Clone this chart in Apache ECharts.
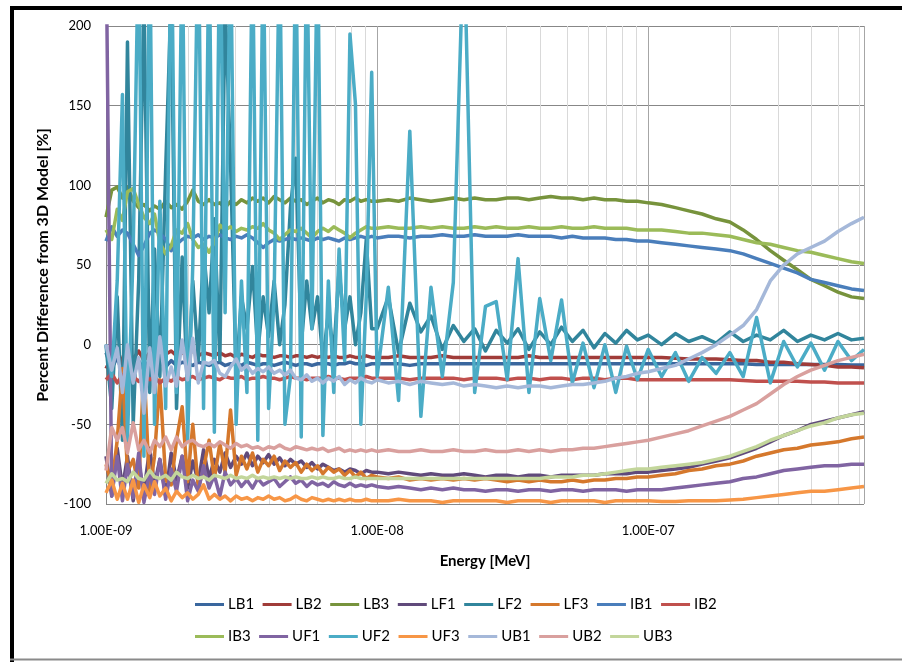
<!DOCTYPE html>
<html>
<head>
<meta charset="utf-8">
<script src="https://cdn.jsdelivr.net/npm/echarts@6/dist/echarts.min.js"></script>
<style>
html,body{margin:0;padding:0;background:#fff;}
#chart{width:902px;height:662px;}
</style>
</head>
<body>
<div id="chart"></div>
<script>
// ---- data ----
const energy = [1.00e-9,1.05e-9,1.10e-9,1.15e-9,1.20e-9,1.26e-9,1.32e-9,1.38e-9,1.45e-9,1.51e-9,
1.58e-9,1.66e-9,1.74e-9,1.82e-9,1.91e-9,2.00e-9,2.09e-9,2.19e-9,2.29e-9,2.40e-9,
2.51e-9,2.63e-9,2.75e-9,2.88e-9,3.02e-9,3.16e-9,3.31e-9,3.47e-9,3.63e-9,3.80e-9,
3.98e-9,4.17e-9,4.37e-9,4.57e-9,4.79e-9,5.01e-9,5.25e-9,5.50e-9,5.75e-9,6.03e-9,
6.31e-9,6.61e-9,6.92e-9,7.24e-9,7.59e-9,7.94e-9,8.32e-9,8.71e-9,9.12e-9,9.55e-9,
1.00e-8,1.10e-8,1.20e-8,1.32e-8,1.45e-8,1.58e-8,1.74e-8,1.91e-8,2.09e-8,2.29e-8,
2.51e-8,2.75e-8,3.02e-8,3.31e-8,3.63e-8,3.98e-8,4.37e-8,4.79e-8,5.25e-8,5.75e-8,
6.31e-8,6.92e-8,7.59e-8,8.32e-8,9.12e-8,
1.00e-7,1.12e-7,1.26e-7,1.41e-7,1.58e-7,1.78e-7,2.00e-7,2.24e-7,2.51e-7,2.82e-7,
3.16e-7,3.55e-7,3.98e-7,4.47e-7,5.01e-7,5.62e-7,6.25e-7];

const LB1 = [-5,-15,-8,-18,-6,-14,-10,-16,-9,-13,
-11,-14,-10,-13,-11,-12,-13,-11,-12,-13,
-12,-11,-13,-12,-12,-13,-11,-12,-13,-12,
-12,-13,-12,-11,-12,-13,-12,-12,-13,-12,
-12,-12,-13,-12,-12,-11,-12,-12,-13,-12,
-12,-12,-12,-13,-12,-12,-12,-12,-12,-12,
-12,-12,-12,-12,-12,-12,-12,-12,-12,-12,
-12,-12,-12,-12,-12,
-12,-12,-12,-12,-12,-12,-12,-12,-12.5,-12.5,-12.5,-12.5,-12.5,-12.5,-12.5,-12.7,-12.7];

const LB2 = [-15,-8,-3,-12,-2,-9,-4,-10,-5,-3,
-8,-6,-4,-7,-5,-6,-4,-7,-5,-6,
-7,-5,-7,-6,-8,-6,-7,-8,-6,-7,
-7,-8,-7,-7,-8,-7,-7,-8,-7,-8,
-7,-8,-7,-8,-8,-7,-8,-8,-7,-8,
-8,-8,-7,-8,-8,-8,-7,-8,-8,-8,
-8,-8,-8,-8,-7,-8,-8,-8,-8,-8,
-8,-8,-8,-8,-8,
-8,-8,-8.5,-9,-9,-9,-9.5,-10,-10,-11,-11,-12,-12.5,-13,-14,-14,-14.5];

const LB3 = [80,97,99,92,99,90,86,88,84,87,
85,90,86,88,85,90,97,90,88,91,
88,89,86,90,88,91,89,92,90,92,
89,93,91,89,92,90,91,88,90,92,
89,91,90,88,91,90,92,90,91,90,
90,91,90,92,91,90,91,92,91,92,
91,91,92,92,91,92,93,92,92,91,
92,91,91,90,90,
89,88,86,84,82,79,77,72,66,59,53,47,41,37,33,30,29];

const LF1 = [-70,-95,-65,-90,-70,-98,-75,-92,-65,-88,
-72,-95,-68,-85,-70,-90,-73,-86,-66,-84,
-72,-80,-68,-77,-70,-75,-68,-76,-70,-74,
-69,-75,-71,-76,-72,-75,-73,-77,-74,-78,
-75,-77,-79,-78,-80,-78,-79,-81,-79,-80,
-80,-81,-80,-81,-82,-81,-82,-82,-81,-82,
-83,-82,-82,-83,-82,-82,-83,-82,-82,-82,
-82,-81,-81,-81,-80,
-80,-79,-78,-77,-75,-73,-71,-68,-65,-61,-57,-54,-50,-48,-46,-44,-42];

const LF2 = [0,-40,30,-60,190,-50,40,220,-30,60,
-20,110,220,-40,55,-30,40,-10,60,20,
79,-10,215,114,-20,30,10,49,-5,30,
5,40,0,25,86,117,0,40,10,30,
-10,20,-5,47,10,30,0,20,66,10,
10,30,-5,26,8,18,-3,12,2,10,
-4,9,1,10,-3,8,0,11,2,9,
-2,7,1,9,3,
6,0,7,2,5,1,8,2,6,3,9,2,6,3,7,3,4];

const LF3 = [-75,-88,-60,-15,-80,-72,-90,-12,-92,-70,
-22,-85,-88,-60,-39,-86,-50,-90,-78,-60,
-84,-62,-80,-41,-82,-70,-78,-68,-80,-72,
-76,-70,-79,-73,-77,-74,-80,-75,-79,-76,
-81,-77,-80,-78,-82,-79,-83,-80,-84,-82,
-83,-84,-83,-85,-84,-85,-84,-85,-84,-85,
-84,-85,-86,-85,-86,-85,-86,-86,-85,-86,
-85,-85,-84,-84,-83,
-83,-82,-81,-79,-78,-76,-75,-73,-70,-68,-66,-65,-63,-62,-61,-59,-58];

const IB1 = [65,74,68,72,70,63,56,62,70,72,
70,66,59,63,66,68,67,69,66,68,
67,69,67,66,68,67,69,67,64,61,
64,66,65,66,67,66,67,66,65,67,
66,67,66,65,67,66,67,68,67,68,
67,68,68,67,68,68,69,68,68,69,
68,68,68,69,68,68,68,67,68,67,
67,67,66,66,65,
65,64,63,62,61,60,59,57,54,51,48,45,41,39,37,35,34];

const IB2 = [-22,-18,-24,-19,-25,-20,-23,-19,-22,-20,
-24,-21,-23,-20,-22,-21,-20,-22,-21,-20,
-21,-22,-20,-21,-21,-20,-22,-21,-21,-20,
-21,-21,-22,-21,-20,-21,-21,-22,-21,-21,
-21,-20,-21,-21,-22,-21,-21,-21,-20,-21,
-21,-21,-21,-22,-21,-21,-21,-21,-22,-21,
-21,-21,-22,-21,-21,-22,-21,-21,-22,-21,
-21,-22,-21,-21,-22,
-22,-22,-22,-22,-22,-22,-22,-22.5,-23,-23,-23,-23,-23.5,-23.5,-24,-24,-24];

const IB3 = [72,66,85,78,96,98,88,80,76,82,
64,57,62,72,70,76,66,61,63,58,
64,75,72,74,71,73,72,74,73,76,
72,70,66,69,72,71,73,70,67,71,
73,71,74,72,70,67,70,72,74,73,
73,74,73,73,74,73,74,73,73,74,
73,74,73,73,74,73,73,74,73,73,
74,73,73,73,72,
72,72,71,70,70,69,68,66,64,63,61,59,58,56,54,52,51];

const UF1 = [260,-95,-70,-98,-75,-96,-68,-99,-80,-94,
-72,-97,-78,-92,-70,-98,-85,-92,-76,-90,
-82,-95,-80,-88,-84,-89,-85,-90,-84,-88,
-86,-84,-89,-86,-83,-87,-85,-89,-86,-88,
-87,-89,-86,-88,-89,-87,-89,-88,-89,-88,
-89,-90,-89,-90,-91,-90,-91,-90,-91,-91,
-92,-91,-91,-92,-91,-91,-92,-91,-91,-92,
-91,-91,-91,-92,-91,
-91,-91,-90,-89,-88,-87,-86,-84,-83,-81,-79,-78,-77,-76,-76,-75,-75];

const UF2 = [0,-20,40,157,-60,60,260,-70,260,-50,
90,-40,280,-30,260,-60,50,270,-40,260,
-55,270,20,260,-50,40,-30,260,-60,260,
-40,30,260,-50,-20,260,-58,260,10,260,
-57,40,-30,60,-10,195,151,-50,30,171,
-20,36,-35,134,-45,36,-20,39,260,-30,
24,27,-22,54,-30,29,-10,28,-24,1,
-27,0,-30,-1,-22,
-3,-20,-5,-23,-8,-18,-5,-20,17,-24,2,-14,1,-16,2,-10,-3];

const UF3 = [-93,-85,-97,-87,-97,-85,-99,-88,-96,-86,
-95,-90,-98,-92,-96,-93,-97,-94,-88,-97,
-94,-97,-95,-98,-95,-97,-96,-98,-96,-97,
-95,-97,-96,-98,-97,-95,-97,-98,-96,-97,
-98,-97,-98,-97,-98,-97,-98,-98,-97,-98,
-98,-98,-97,-98,-98,-98,-99,-98,-98,-98,
-98,-98,-99,-98,-98,-98,-99,-98,-98,-98,
-98,-99,-98,-98,-98,
-98,-98.5,-98.5,-98,-98,-98,-97.5,-97,-96,-95,-94,-93,-92,-92,-91,-90,-89];

const UB1 = [0,-16,-2,-30,0,-24,-8,-43,-2,-30,
5,-26,-14,-26,3,-22,4,-24,-11,-12,
-10,-18,-20,-14,-9,-16,-13,-18,-15,-17,
-14,-18,-16,-19,-16,-21,-22,-19,-23,-21,
-24,-21,-23,-20,-25,-22,-24,-21,-23,-24,
-22,-24,-23,-25,-23,-24,-25,-24,-26,-25,
-26,-27,-26,-27,-26,-26,-27,-26,-25,-25,
-24,-23,-21,-20,-18,
-17,-15,-13,-9,-5,0,6,12,22,40,50,57,61,65,71,76,80];

const UB2 = [-79,-52,-60,-52,-68,-49,-66,-60,-68,-60,
-64,-58,-66,-58,-64,-61,-60,-63,-64,-62,
-64,-61,-63,-65,-62,-64,-63,-65,-64,-66,
-64,-65,-63,-65,-66,-64,-65,-66,-65,-66,
-65,-67,-66,-65,-67,-66,-67,-66,-67,-66,
-67,-66,-67,-67,-66,-67,-67,-66,-67,-67,
-66,-67,-67,-66,-67,-66,-67,-66,-66,-65,
-65,-64,-63,-62,-61,
-60,-58,-56,-54,-51,-48,-45,-41,-37,-31,-25,-20,-16,-13,-10,-8,-6];

const UB3 = [-87,-81,-85,-84,-86,-80,-84,-85,-79,-83,
-84,-82,-85,-80,-83,-84,-82,-84,-83,-85,
-82,-83,-84,-82,-84,-83,-84,-82,-84,-83,
-84,-83,-84,-83,-84,-83,-84,-84,-83,-84,
-83,-84,-84,-83,-84,-84,-83,-84,-84,-84,
-84,-84,-84,-84,-84,-84,-84,-84,-84,-84,
-84,-84,-84,-84,-84,-84,-83,-83,-83,-82,
-82,-81,-80,-79,-78,
-78,-77,-76,-75,-74,-72,-70,-67,-64,-60,-57,-54,-51,-49,-46,-44,-43];

const seriesNames = ['LB1','LB2','LB3','LF1','LF2','LF3','IB1','IB2','IB3','UF1','UF2','UF3','UB1','UB2','UB3'];
const seriesValues = [LB1,LB2,LB3,LF1,LF2,LF3,IB1,IB2,IB3,UF1,UF2,UF3,UB1,UB2,UB3];
const seriesColors = ['#3A679E','#A03C39','#77933C','#604A7B','#31859C','#D5782C','#4A7EBB','#C0504D','#9BBB59','#8064A2','#4BACC6','#F79646','#A5B8D9','#D9A09E','#C3D69B'];

const yTicks = {min:-100, max:200, interval:50};
const xRange = {min:1e-9, max:6.25e-7};
const minorGrid = [2e-9,3e-9,4e-9,5e-9,6e-9,7e-9,8e-9,9e-9,2e-8,3e-8,4e-8,5e-8,6e-8,7e-8,8e-8,9e-8,2e-7,3e-7,4e-7,5e-7,6e-7];

// ---- chart ----
const FONT = 'Lato, "Liberation Sans", sans-serif';
const chart = echarts.init(document.getElementById('chart'), null, {renderer:'canvas'});

function fmtE(v){
  const ex = Math.round(Math.log10(v));
  if (Math.abs(Math.log10(v) - ex) > 1e-6) return '';
  const s = ex < 0 ? '-' : '+';
  const a = Math.abs(ex);
  return '1.00E' + s + (a < 10 ? '0' + a : String(a));
}

const series = [{
  type:'custom',
  silent:true,
  z:1,
  data: minorGrid.map(e => [e, 0]),
  encode:{x:0, y:1},
  renderItem: (params, api) => {
    const x = api.value(0);
    const p1 = api.coord([x, yTicks.max]);
    const p2 = api.coord([x, yTicks.min]);
    const px = Math.round(p1[0]) + 0.5;
    return {type:'line', shape:{x1:px, y1:p1[1], x2:px, y2:p2[1]}, style:{stroke:'#d9d9d9', lineWidth:1}};
  }
}];
seriesNames.forEach((n, k) => {
  series.push({
    name:n, type:'line', z:2,
    data: energy.map((e, i) => [e, seriesValues[k][i]]),
    showSymbol:false, symbol:'none', smooth:false, clip:true,
    lineStyle:{width:3.5, color:seriesColors[k], join:'round'},
    itemStyle:{color:seriesColors[k]},
    emphasis:{disabled:true}
  });
});

const legendCommon = {
  left:195, orient:'horizontal', icon:'rect', itemWidth:29, itemHeight:3, itemGap:8.5, padding:0,
  textStyle:{fontFamily:FONT, fontSize:15, color:'#000', padding:[0,0,0,-1]},
  selectedMode:false
};

chart.setOption({
  animation:false,
  backgroundColor:'#fff',
  grid:{left:106, right:38, top:26, bottom:158, containLabel:false},
  xAxis:{
    type:'log', logBase:10, min:xRange.min, max:xRange.max,
    name:'Energy [MeV]', nameLocation:'middle', nameGap:50,
    nameTextStyle:{fontFamily:FONT, fontSize:15, fontWeight:'bold', color:'#000'},
    axisLine:{show:true, lineStyle:{color:'#868686', width:1}},
    axisTick:{show:false},
    axisLabel:{formatter:fmtE, fontFamily:FONT, fontSize:13, color:'#000', margin:20, showMaxLabel:false},
    splitLine:{show:true, lineStyle:{color:'#a6a6a6', width:1}},
    minorTick:{show:false}, minorSplitLine:{show:false}
  },
  yAxis:{
    type:'value', min:yTicks.min, max:yTicks.max, interval:yTicks.interval,
    name:'Percent Difference from 3D Model [%]', nameLocation:'middle', nameGap:55,
    nameTextStyle:{fontFamily:FONT, fontSize:16, fontWeight:'bold', color:'#000'},
    axisLine:{show:true, lineStyle:{color:'#868686', width:1}},
    axisTick:{show:false},
    axisLabel:{fontFamily:FONT, fontSize:13, color:'#000', margin:15},
    splitLine:{show:true, lineStyle:{color:'#878787', width:1}}
  },
  legend:[
    Object.assign({}, legendCommon, {top:597, data:seriesNames.slice(0,8)}),
    Object.assign({}, legendCommon, {top:629, data:seriesNames.slice(8)})
  ],
  graphic:[
    {type:'polyline', silent:true, shape:{points:[[12,662],[12,8],[902,8]]}, style:{stroke:'#000', lineWidth:4, fill:null}},
    {type:'line', silent:true, shape:{x1:10, y1:659.5, x2:902, y2:659.5}, style:{stroke:'#8a8a8a', lineWidth:2}}
  ],
  series:series
});
</script>
</body>
</html>
